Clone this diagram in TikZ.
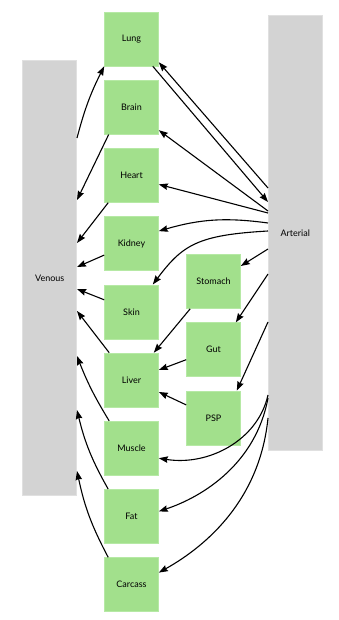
\documentclass[tikz,border=0pt]{standalone}
\usepackage{fontspec}
\setmainfont{Lato}
\usetikzlibrary{arrows.meta}
\definecolor{organgreen}{RGB}{162,224,140}
\definecolor{organedge}{RGB}{182,233,165}
\definecolor{poolgray}{RGB}{211,211,211}
\definecolor{pooledge}{RGB}{224,224,224}

\begin{document}
\begin{tikzpicture}[x=1pt,y=1pt,
	organ/.style={fill=organgreen,draw=organedge,line width=0.6pt,minimum width=54pt,minimum height=54pt,inner sep=0pt,font=\fontsize{9}{10}\selectfont},
	pool/.style={fill=poolgray,draw=pooledge,line width=0.6pt,minimum width=54pt,minimum height=435pt,inner sep=0pt,font=\fontsize{9}{10}\selectfont},
	flow/.style={-{Stealth[length=9pt,width=6.5pt,inset=1pt]},line width=1.1pt}]
	\useasboundingbox (0,0) rectangle (338,-620);

	%Draw blood pools
	\node[pool] (Venous)   at (49.7,-278)  {Venous};
	\node[pool] (Arterial) at (295.3,-233) {Arterial};

	%Draw organs
	\node[organ] (Lung)    at (131.5,-39)    {Lung};
	\node[organ] (Brain)   at (131.5,-107.2) {Brain};
	\node[organ] (Heart)   at (131.5,-175.4) {Heart};
	\node[organ] (Kidney)  at (131.5,-243.6) {Kidney};
	\node[organ] (Skin)    at (131.5,-311.8) {Skin};
	\node[organ] (Liver)   at (131.5,-380)   {Liver};
	\node[organ] (Muscle)  at (131.5,-448.2) {Muscle};
	\node[organ] (Fat)     at (131.5,-516.4) {Fat};
	\node[organ] (Carcass) at (131.5,-584.6) {Carcass};
	\node[organ] (Stomach) at (213.5,-281.5) {Stomach};
	\node[organ] (Gut)     at (213.5,-349.7) {Gut};
	\node[organ] (PSP)     at (213.5,-417.9) {PSP};

	%Draw lung loop
	\draw[flow] ([yshift=140pt]Venous.east) to[bend left=6] (Lung.south west);
	\draw[flow] ([xshift=-6pt]Lung.south east) -- ([yshift=31pt]Arterial.west);
	\draw[flow] ([yshift=45pt]Arterial.west) -- ([yshift=4pt]Lung.south east);

	%Draw arterial supply
	\draw[flow] ([yshift=22pt]Arterial.west) -- ([yshift=-23pt]Brain.east);
	\draw[flow] ([yshift=20pt]Arterial.west) -- ([yshift=-9pt]Heart.east);
	\draw[flow] ([yshift=10pt]Arterial.west) to[bend right=12] ([yshift=12.5pt]Kidney.east);
	\draw[flow] ([yshift=2pt]Arterial.west) .. controls +(-70,-4) and +(30,40) .. ([xshift=-6pt]Skin.north east);
	\draw[flow] ([yshift=-16pt]Arterial.west) -- ([yshift=15.5pt]Stomach.east);
	\draw[flow] ([yshift=-41pt]Arterial.west) -- ([xshift=-5pt]Gut.north east);
	\draw[flow] ([yshift=-89pt]Arterial.west) -- ([xshift=-4pt]PSP.north east);
	\draw[flow] ([yshift=-162pt]Arterial.west) .. controls +(-10,-45) and +(50,-8) .. ([yshift=-10pt]Muscle.east);
	\draw[flow] ([yshift=-165pt]Arterial.west) .. controls +(-12,-65) and +(45,15) .. ([yshift=5pt]Fat.east);
	\draw[flow] ([yshift=-185pt]Arterial.west) .. controls +(-8,-80) and +(50,28) .. ([yshift=12pt]Carcass.east);

	%Draw portal flow into liver
	\draw[flow] ([xshift=4pt]Stomach.south west) -- ([xshift=-5pt]Liver.north east);
	\draw[flow] ([yshift=-10pt]Gut.west) -- ([yshift=10pt]Liver.east);
	\draw[flow] ([yshift=13pt]PSP.west) -- ([yshift=-12pt]Liver.east);

	%Draw venous return
	\draw[flow] ([xshift=4.5pt]Brain.south west) -- ([yshift=78pt]Venous.east);
	\draw[flow] ([xshift=4pt]Heart.south west) -- ([yshift=35pt]Venous.east);
	\draw[flow] ([yshift=-11.5pt]Kidney.west) -- ([yshift=11pt]Venous.east);
	\draw[flow] ([yshift=12pt]Skin.west) -- ([yshift=-11pt]Venous.east);
	\draw[flow] ([xshift=5pt]Liver.north west) -- ([yshift=-33pt]Venous.east);
	\draw[flow] ([xshift=5pt]Muscle.north west) to[bend left=5] ([yshift=-78pt]Venous.east);
	\draw[flow] ([xshift=4pt]Fat.north west) to[bend left=8] ([yshift=-132pt]Venous.east);
	\draw[flow] ([xshift=4pt]Carcass.north west) to[bend left=8] ([yshift=-193pt]Venous.east);
\end{tikzpicture}
\end{document}
